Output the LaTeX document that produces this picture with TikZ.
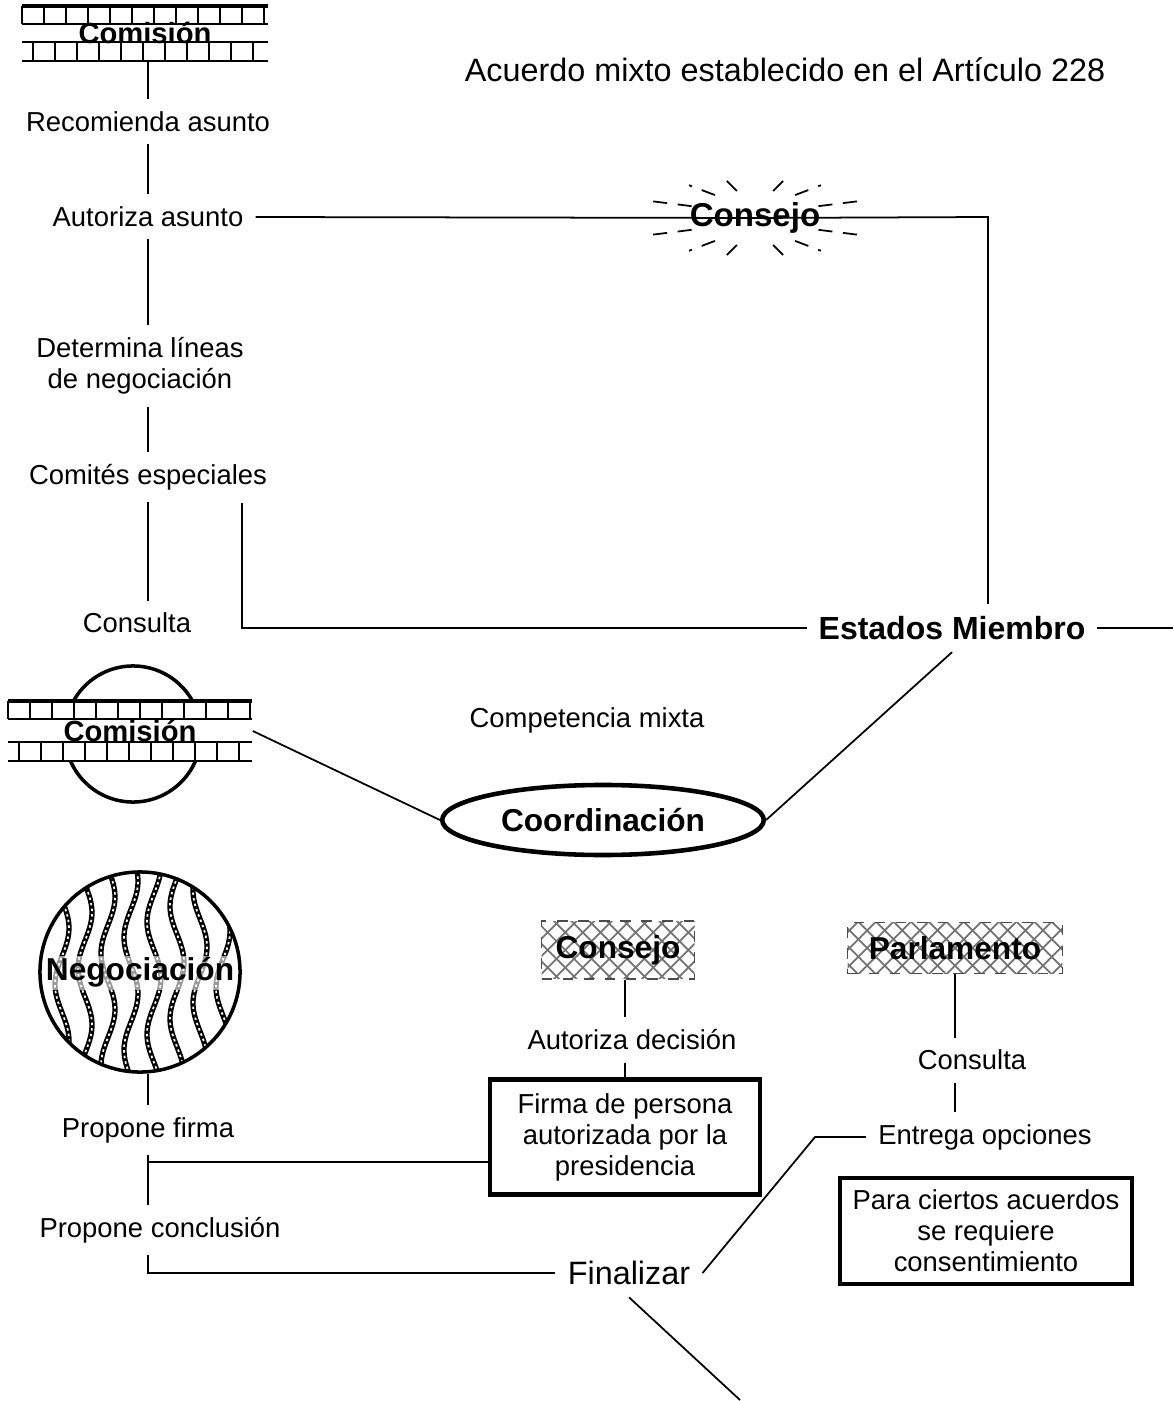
\documentclass[tikz,border=0pt]{standalone}
\usepackage{fontspec}
\setmainfont{Liberation Sans}
\usetikzlibrary{shapes.geometric,calc}

\tikzset{
  lbl/.style={font=\fontsize{7.8}{8.8}\selectfont, align=center},
  hdr/.style={font=\fontsize{9}{10}\selectfont\bfseries, align=center},
  hatchbox/.style={hdr, draw=black!70, dashed, line width=.4pt,
    path picture={
      \foreach \i in {-16,...,16} {
        \draw[black!55, solid, line width=.5pt] ([xshift=\i*5pt]path picture bounding box.center) ++(-12pt,-12pt) -- ++(24pt,24pt);
        \draw[black!55, solid, line width=.5pt] ([xshift=\i*5pt]path picture bounding box.center) ++(-12pt,12pt) -- ++(24pt,-24pt);
      }
    },
    inner xsep=4pt, inner ysep=4pt},
  thickbox/.style={lbl, draw, line width=1.2pt},
  conn/.style={line width=.5pt}
}

\begin{document}
\begin{tikzpicture}[x=0.01cm, y=-0.01cm]
\useasboundingbox (0,0) rectangle (1173,1401);

% bricks behind the first Comision
\draw[line width=1pt] (22,6) -- (268,6);
\draw[line width=.6pt] (22,24) -- (268,24);
\draw[line width=.6pt] (22,42) -- (268,42);
\draw[line width=.8pt] (22,61) -- (268,61);
\foreach \x in {22,44,...,266} \draw[line width=.6pt] (\x,6) -- (\x,24);
\foreach \x in {33,55,...,266} \draw[line width=.6pt] (\x,42) -- (\x,61);

% second Comision, circle and bricks
\node[draw, circle, line width=1pt, minimum size=1.36cm] (com2) at (133,734) {};
\fill[white] (8,700) rectangle (252,762);
\draw[line width=1pt] (8,701) -- (252,701);
\draw[line width=.6pt] (8,719) -- (252,719);
\draw[line width=.6pt] (8,742) -- (252,742);
\draw[line width=.8pt] (8,761) -- (252,761);
\foreach \x in {8,30,...,250} \draw[line width=.6pt] (\x,701) -- (\x,719);
\foreach \x in {19,41,...,250} \draw[line width=.6pt] (\x,742) -- (\x,761);

% ropes of Negociacion
\begin{scope}
\clip (140,972) circle [radius=100];
\foreach \i in {0,...,7} {
  \pgfmathsetmacro\xo{62+23*\i}
  \draw[line width=1.5pt] plot[domain=860:1080, samples=45, smooth] ({\xo+7*sin(3.2*\x+50*\i)}, \x);
  \draw[white, line width=.5pt, dash pattern=on .7pt off .9pt] plot[domain=860:1080, samples=45, smooth] ({\xo+7*sin(3.2*\x+50*\i)}, \x);
}
\fill[white, opacity=.6] (45,956) rectangle (236,990);
\end{scope}

\coordinate (c1) at (988,217);
\coordinate (k) at (242,503);
\coordinate (r) at (1173,628);
\coordinate (h) at (148,1162);
\coordinate (e1) at (815,1137);
\coordinate (z) at (740,1400);

\node[lbl, font=\fontsize{9.2}{10}\selectfont] (title) at (785,70) {Acuerdo mixto establecido en el Artículo 228};
\node[hdr, font=\fontsize{8.3}{10}\selectfont\bfseries, minimum width=2.46cm, minimum height=.57cm, inner sep=0pt] (com1) at (145,33) {Comisión};
\node[lbl] (rec) at (148,122) {Recomienda asunto};
\node[lbl] (aut) at (148,217) {Autoriza asunto};
\node[hdr, font=\fontsize{9.4}{10}\selectfont\bfseries] (cons1) at (755,218) {Consejo};
\node[lbl] (det) at (140,366) {Determina líneas\\de negociación};
\node[lbl] (comi) at (148,477) {Comités especiales};
\node[lbl] (cons) at (137,623) {Consulta};
\node[hdr, font=\fontsize{9.1}{10}\selectfont\bfseries, inner xsep=3pt] (est) at (952,628) {Estados Miembro};
\node[lbl] (comp) at (587,720) {Competencia mixta};
\node[hdr, font=\fontsize{8.3}{10}\selectfont\bfseries, minimum width=2.44cm, minimum height=.6cm, inner sep=0pt] (com2t) at (130,731) {Comisión};
\node[hdr, draw, ellipse, line width=1.3pt, minimum width=2.8cm, minimum height=.7cm] (coord) at (603,820) {Coordinación};
\node[hdr, draw, circle, line width=1pt, minimum size=2cm, inner sep=0pt] (neg) at (140,972) {Negociación};
\node[hatchbox] (cons2) at (618,950) {Consejo};
\node[hatchbox, inner xsep=6pt] (parl) at (955,948) {Parlamento};
\node[lbl] (ad) at (632,1040) {Autoriza decisión};
\node[lbl] (cons3) at (972,1060) {Consulta};
\node[lbl] (pf) at (148,1130) {Propone firma};
\node[thickbox, minimum width=2.7cm, minimum height=1.15cm] (firma) at (625,1137) {Firma de persona\\autorizada por la\\presidencia};
\node[lbl] (eo) at (985,1137) {Entrega opciones};
\node[lbl] (pc) at (160,1230) {Propone conclusión};
\node[thickbox, minimum width=2.92cm, minimum height=.93cm] (para) at (986,1231) {Para ciertos acuerdos\\se requiere\\consentimiento};
\node[lbl, font=\fontsize{9.2}{10}\selectfont] (fin) at (629,1273) {Finalizar};

% burst round the first Consejo
\foreach \a in {25,55,75,105,125,155,205,235,255,285,305,335}
  \draw[conn, dash pattern=on 4pt off 3pt] ($(cons1)+({70*cos(\a)},{28*sin(\a)})$) -- ($(cons1)+({115*cos(\a)},{40*sin(\a)})$);

% connectors
\draw[conn] (rec.north |- com1.south) -- (rec.north);
\draw[conn] (rec.south) -- (aut.north);
\draw[conn] (aut.south) -- (aut.south |- det.north);
\draw[conn] (det.south -| aut.south) -- (comi.north);
\draw[conn] (comi.south) -- (comi.south |- cons.north);
\draw[conn] (aut.east) -- (cons1.center) -- (c1) -- (c1 |- est.north);
\draw[conn] (k) |- (est.west);
\draw[conn] (est.east) -- (r);
\draw[conn] (est.south) -- (coord.east);
\draw[conn] (com2t.east) -- (coord.west);
\draw[conn] (pf.north |- neg.south) -- (pf.north);
\draw[conn] (pf.south) -- (pf.south |- pc.north);
\draw[conn] (h) -- (h -| firma.west);
\draw[conn] (pc.south -| h) |- (fin.west);
\draw[conn] (cons2.south -| firma.north) -- (ad.north -| firma.north);
\draw[conn] (ad.south -| firma.north) -- (firma.north);
\draw[conn] (parl.south) -- (cons3.north -| parl.south);
\draw[conn] (cons3.south -| parl.south) -- (eo.north -| parl.south);
\draw[conn] (eo.west) -- (e1) -- (fin.east);
\draw[conn] (fin.south) -- (z);
\end{tikzpicture}
\end{document}
